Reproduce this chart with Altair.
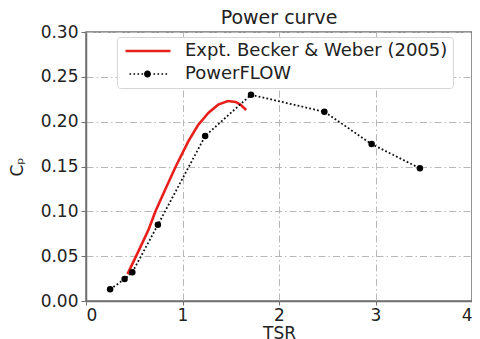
import altair as alt
import pandas as pd

# Experimental curve (Becker & Weber 2005)
expt_tsr = [0.43, 0.55, 0.65, 0.72, 0.82, 0.93, 1.06, 1.16, 1.27, 1.37, 1.47, 1.55, 1.60, 1.66]
expt_cp = [0.030, 0.057, 0.080, 0.100, 0.124, 0.150, 0.178, 0.196, 0.210, 0.219, 0.223, 0.222, 0.219, 0.213]

# PowerFLOW simulation points
pf_tsr = [0.25, 0.40, 0.48, 0.745, 1.235, 1.71, 2.47, 2.96, 3.46]
pf_cp = [0.013, 0.0245, 0.032, 0.085, 0.184, 0.230, 0.211, 0.175, 0.148]

series_names = ["Expt. Becker & Weber (2005)", "PowerFLOW"]
x_ticks = [0, 1, 2, 3, 4]
y_ticks = [0.00, 0.05, 0.10, 0.15, 0.20, 0.25, 0.30]

expt_df = pd.DataFrame({"tsr": expt_tsr, "cp": expt_cp, "series": series_names[0]})
pf_df = pd.DataFrame({"tsr": pf_tsr, "cp": pf_cp, "series": series_names[1]})
legend_df = pd.DataFrame({"tsr": [None, None], "cp": [None, None], "series": series_names})

FONT = "DejaVu Sans"
GRID = "#b8b8b8"
FRAME = "#707070"

# legend symbol paths (units scaled by sqrt(symbolSize)/2 = 5 px)
red_path = "M-1.1,-0.25H7.9V0.25H-1.1Z"
dots = []
x0 = -0.3
while x0 < 6.9:
    if not (2.4 < x0 < 4.1):
        dots.append(f"M{x0:.2f},-0.16h0.32v0.32h-0.32Z")
    x0 += 0.8
circ = "M4.0,0A0.7,0.7,0,1,1,2.6,0A0.7,0.7,0,1,1,4.0,0Z"
pf_path = "".join(dots) + circ

x_scale = alt.Scale(domain=[0, 4], nice=False, zero=False)
y_scale = alt.Scale(domain=[0, 0.30], nice=False)

x_axis = alt.Axis(values=x_ticks, format="d", title="TSR")
y_axis = alt.Axis(values=y_ticks, format=".2f", title="Cₚ")

expt_line = alt.Chart(expt_df).mark_line(color="#e8201c", strokeWidth=2.6).encode(
    x=alt.X("tsr:Q", scale=x_scale, axis=x_axis),
    y=alt.Y("cp:Q", scale=y_scale, axis=y_axis),
)

pf_line = alt.Chart(pf_df).mark_line(color="#111111", strokeWidth=1.8, strokeDash=[1.8, 2.2]).encode(
    x="tsr:Q", y="cp:Q"
)

pf_pts = alt.Chart(pf_df).mark_circle(color="#000000", size=42, opacity=1).encode(
    x="tsr:Q", y="cp:Q"
)

legend_layer = alt.Chart(legend_df).mark_point(filled=True, opacity=1).encode(
    x="tsr:Q",
    y="cp:Q",
    color=alt.Color(
        "series:N",
        scale=alt.Scale(domain=series_names, range=["#e8201c", "#000000"]),
        legend=alt.Legend(
            title=None,
            orient="none",
            legendX=31,
            legendY=5,
            symbolSize=100,
            symbolStrokeWidth=0,
            labelOffset=45,
            labelFontSize=18,
            labelFont=FONT,
            labelColor="#222222",
            labelLimit=500,
            rowPadding=5,
            padding=5,
            strokeColor="#d6d6d6",
            fillColor="#ffffff",
            cornerRadius=3,
        ),
    ),
    shape=alt.Shape(
        "series:N",
        scale=alt.Scale(domain=series_names, range=[red_path, pf_path]),
    ),
)

chart = (
    alt.layer(expt_line, pf_line, pf_pts, legend_layer)
    .properties(
        width=386,
        height=269,
        title=alt.Title(
            "Power curve",
            fontSize=19,
            font=FONT,
            fontWeight="normal",
            color="#222222",
            frame="group",
            offset=-5,
        ),
        autosize=alt.AutoSizeParams(type="none"),
        padding={"left": 78, "top": 24, "right": 0, "bottom": 38},
    )
    .configure_view(stroke=FRAME, strokeWidth=1.5)
    .configure_axis(
        grid=True,
        gridColor=GRID,
        gridDash=[7, 3, 1.5, 3],
        gridWidth=1,
        domainColor=FRAME,
        domainWidth=1.5,
        tickColor=FRAME,
        tickSize=5,
        labelFont=FONT,
        labelFontSize=17,
        labelColor="#222222",
        titleFont=FONT,
        titleFontSize=17,
        titleFontWeight="normal",
        titleColor="#222222",
    )
    .configure_axisX(tickSize=4, labelPadding=2, titlePadding=2)
    .configure_axisY(labelPadding=3, titlePadding=14)
)

chart.save("out.html", embed_options={"renderer": "svg", "actions": False})
